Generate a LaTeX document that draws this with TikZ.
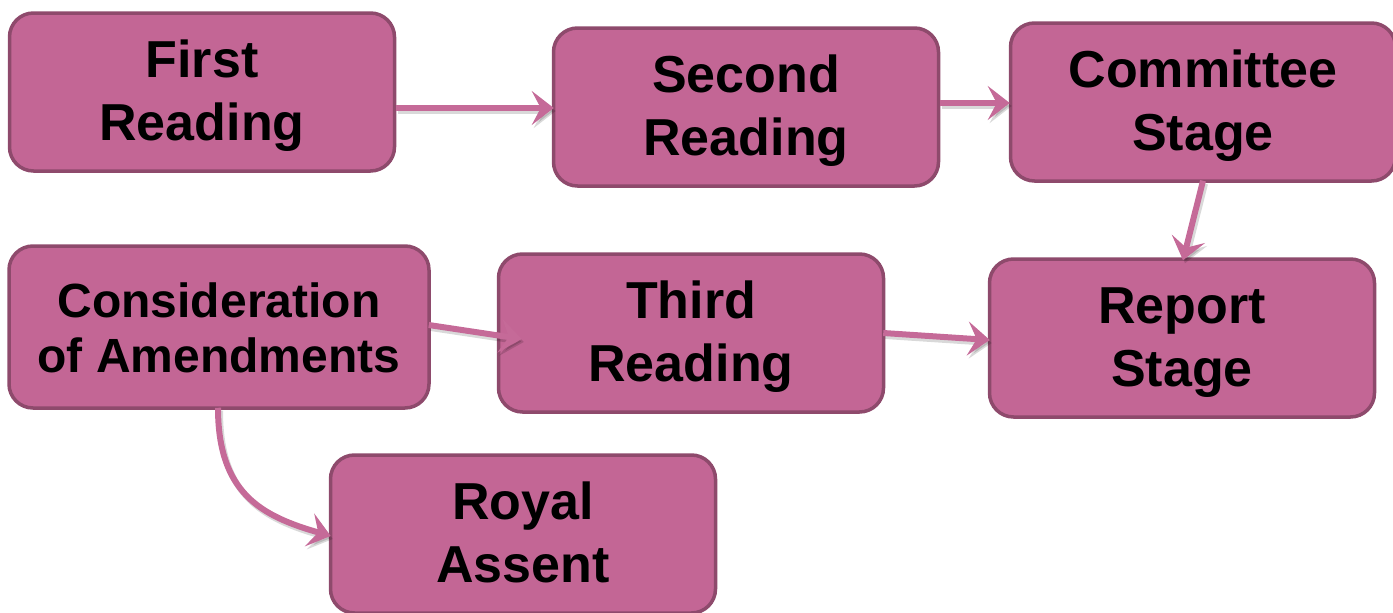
\documentclass[tikz,border=0pt]{standalone}
\usepackage{fontspec}
\setmainfont{Liberation Sans}
\usetikzlibrary{arrows.meta,calc}
\definecolor{stagefill}{HTML}{C36695}
\definecolor{stageedge}{HTML}{8E4A6C}
\definecolor{flow}{HTML}{C56A98}
% two centred lines with fixed top and bottom struts, so every box sits its text alike
\newcommand\twolines[3][45pt]{\rule{0pt}{#1}#2\\#3\rule[-12pt]{0pt}{12pt}}
\tikzset{
  stage/.style={rectangle, rounded corners=24pt, fill=stagefill, draw=stageedge,
    line width=3.5pt, minimum width=385pt, minimum height=158pt, align=center,
    inner sep=0pt, font=\bfseries\fontsize{52}{63}\selectfont},
  flowline/.style={draw=flow, line width=6pt,
    -{Stealth[length=22pt,width=34pt,inset=9pt]},
    preaction={draw=black, opacity=0.15, line width=6pt, transform canvas={xshift=2pt,yshift=-3pt},
      -{Stealth[length=22pt,width=34pt,inset=9pt]}}}
}
\begin{document}
\begin{tikzpicture}[x=1pt,y=-1pt]
\useasboundingbox (0,0) rectangle (1393,613);
\begin{scope}
\clip (0,0) rectangle (1393,613);
\node[stage] (first) at (202,92) {\twolines{First}{Reading}};
\node[stage] (second) at (746,107) {\twolines{Second}{Reading}};
\node[stage] (comm) at (1203,102) {\twolines{Committee}{Stage}};
\node[stage] (report) at (1182,338) {\twolines{Report}{Stage}};
\node[stage] (third) at (691,333) {\twolines{Third}{Reading}};
\node[stage, minimum width=420pt, minimum height=162pt,
  font=\bfseries\fontsize{48}{55}\selectfont] (cons) at (219,327)
  {\twolines[47pt]{Consideration}{of Amendments}};
\node[stage] (royal) at (523,534) {\twolines{Royal}{Assent}};

\draw[flowline] ($(first.east)+(0,16)$) -- ($(second.west)+(2,1)$);
\draw[flowline] ($(second.east)+(0,-4)$) -- ($(comm.west)+(1,1)$);
\draw[flowline] ($(comm.south)+(0,-2)$) -- ($(report.north)+(1,3)$);
\draw[flowline] ($(cons.east)+(-2,-2)$) -- ($(third.west)+(25,6)$);
\draw[flowline] ($(third.east)+(-2,0)$) -- ($(report.west)+(2,2)$);
\draw[flowline] ($(cons.south)+(-1,-2)$) .. controls +(0,85) and +(-70,-20) .. ($(royal.west)+(2,2)$);
\end{scope}
\end{tikzpicture}
\end{document}
